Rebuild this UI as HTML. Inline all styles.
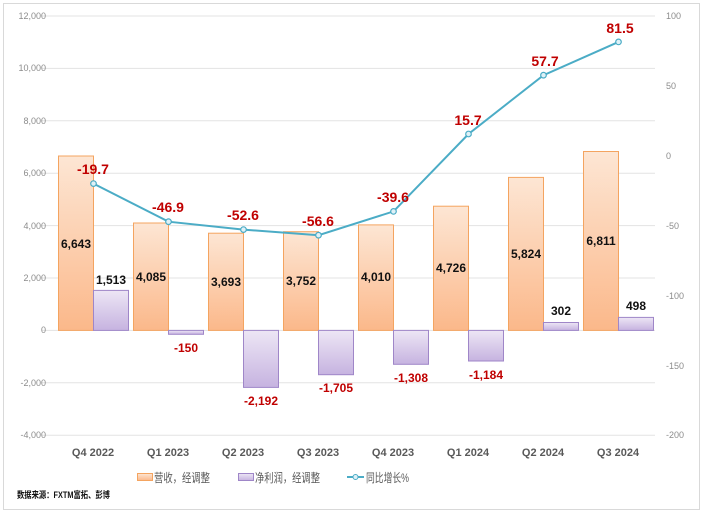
<!DOCTYPE html>
<html><head><meta charset="utf-8"><style>
body{margin:0;background:#fff;}
svg{display:block;font-family:"Liberation Sans","Noto Sans CJK SC",sans-serif;}
</style></head><body>
<svg width="704" height="516" viewBox="0 0 704 516">
<defs>
<linearGradient id="og" x1="0" y1="0" x2="0" y2="1"><stop offset="0" stop-color="#fde6d4"/><stop offset="1" stop-color="#fbb88a"/></linearGradient>
<linearGradient id="pg" x1="0" y1="0" x2="0" y2="1"><stop offset="0" stop-color="#ede6f5"/><stop offset="1" stop-color="#c6b3e0"/></linearGradient>
</defs>
<rect x="3.5" y="3.5" width="696" height="506" fill="#fff" stroke="#d9d9d9"/>
<g stroke="#e3e3e3" stroke-width="1">
<line x1="42" y1="16" x2="655" y2="16"/><line x1="42" y1="68.4" x2="655" y2="68.4"/><line x1="42" y1="120.8" x2="655" y2="120.8"/><line x1="42" y1="173.2" x2="655" y2="173.2"/><line x1="42" y1="225.6" x2="655" y2="225.6"/><line x1="42" y1="278" x2="655" y2="278"/><line x1="42" y1="330.4" x2="655" y2="330.4"/><line x1="42" y1="382.8" x2="655" y2="382.8"/><line x1="42" y1="435.2" x2="655" y2="435.2"/>
</g>
<g font-size="9" fill="#8c8c8c" text-anchor="end">
<text x="46" y="19">12,000</text><text x="46" y="71">10,000</text><text x="46" y="124">8,000</text><text x="46" y="176">6,000</text><text x="46" y="229">4,000</text><text x="46" y="281">2,000</text><text x="46" y="333">0</text><text x="46" y="386">-2,000</text><text x="46" y="438">-4,000</text>
</g>
<g font-size="9" fill="#8c8c8c" text-anchor="start">
<text x="666" y="19">100</text><text x="666" y="89">50</text><text x="666" y="159">0</text><text x="666" y="229">-50</text><text x="666" y="299">-100</text><text x="666" y="369">-150</text><text x="666" y="438">-200</text>
</g>
<g stroke="#f4a460" stroke-width="1" fill="url(#og)">
<rect x="58.5" y="156" width="35" height="174.4"/>
<rect x="133.5" y="223" width="35" height="107.4"/>
<rect x="208.5" y="233.2" width="35" height="97.2"/>
<rect x="283.5" y="231.7" width="35" height="98.7"/>
<rect x="358.5" y="224.9" width="35" height="105.5"/>
<rect x="433.5" y="206.2" width="35" height="124.2"/>
<rect x="508.5" y="177.4" width="35" height="153"/>
<rect x="583.5" y="151.5" width="35" height="178.9"/>
</g>
<g stroke="#9f86c8" stroke-width="1" fill="url(#pg)">
<rect x="93.5" y="290.4" width="35" height="40"/>
<rect x="168.5" y="330.4" width="35" height="3.9"/>
<rect x="243.5" y="330.4" width="35" height="57"/>
<rect x="318.5" y="330.4" width="35" height="44.3"/>
<rect x="393.5" y="330.4" width="35" height="33.9"/>
<rect x="468.5" y="330.4" width="35" height="30.6"/>
<rect x="543.5" y="322.5" width="35" height="7.9"/>
<rect x="618.5" y="317.4" width="35" height="13"/>
</g>
<g font-size="12" font-weight="bold" fill="#111" text-anchor="middle">
<text x="76" y="248">6,643</text><text x="151" y="281">4,085</text><text x="226" y="286">3,693</text><text x="301" y="285">3,752</text><text x="376" y="281">4,010</text><text x="451" y="272">4,726</text><text x="526" y="258">5,824</text><text x="601" y="245">6,811</text>
<text x="111" y="284">1,513</text><text x="561" y="315">302</text><text x="636" y="310">498</text>
</g>
<g font-size="12" font-weight="bold" fill="#c00000" text-anchor="middle">
<text x="186" y="352">-150</text><text x="261" y="405">-2,192</text><text x="336" y="392">-1,705</text><text x="411" y="382">-1,308</text><text x="486" y="379">-1,184</text>
</g>
<polyline fill="none" stroke="#4bacc6" stroke-width="2" points="93.5,183.6 168.5,221.7 243.5,229.6 318.5,235.2 393.5,211.4 468.5,134 543.5,75.2 618.5,41.9"/>
<g fill="#dff1f7" stroke="#4bacc6" stroke-width="1.2">
<circle cx="93.5" cy="183.6" r="2.8"/><circle cx="168.5" cy="221.7" r="2.8"/><circle cx="243.5" cy="229.6" r="2.8"/><circle cx="318.5" cy="235.2" r="2.8"/><circle cx="393.5" cy="211.4" r="2.8"/><circle cx="468.5" cy="134" r="2.8"/><circle cx="543.5" cy="75.2" r="2.8"/><circle cx="618.5" cy="41.9" r="2.8"/>
</g>
<g font-size="14" font-weight="bold" fill="#c00000" text-anchor="middle">
<text x="93" y="174">-19.7</text><text x="168" y="212">-46.9</text><text x="243" y="220">-52.6</text><text x="318" y="226">-56.6</text><text x="393" y="202">-39.6</text><text x="468" y="125">15.7</text><text x="545" y="66">57.7</text><text x="620" y="33">81.5</text>
</g>
<g font-size="11" font-weight="bold" fill="#595959" text-anchor="middle">
<text x="93" y="456">Q4 2022</text><text x="168" y="456">Q1 2023</text><text x="243" y="456">Q2 2023</text><text x="318" y="456">Q3 2023</text><text x="393" y="456">Q4 2023</text><text x="468" y="456">Q1 2024</text><text x="543" y="456">Q2 2024</text><text x="618" y="456">Q3 2024</text>
</g>
<g font-size="12" fill="#595959">
<rect x="137.5" y="473.5" width="15" height="7" fill="url(#og)" stroke="#f4a460"/>
<text x="154" y="482" textLength="56" lengthAdjust="spacingAndGlyphs">营收，经调整</text>
<rect x="238.5" y="473.5" width="15" height="7" fill="url(#pg)" stroke="#9f86c8"/>
<text x="255" y="482" textLength="65" lengthAdjust="spacingAndGlyphs">净利润，经调整</text>
<line x1="347" y1="477" x2="364" y2="477" stroke="#4bacc6" stroke-width="2"/>
<circle cx="355.5" cy="477" r="2.5" fill="#dff1f7" stroke="#4bacc6"/>
<text x="366" y="482" textLength="43" lengthAdjust="spacingAndGlyphs">同比增长%</text>
</g>
<text x="17" y="498" font-size="9" font-weight="bold" fill="#111" textLength="93" lengthAdjust="spacingAndGlyphs">数据来源：FXTM富拓、彭博</text>
</svg>
</body></html>
